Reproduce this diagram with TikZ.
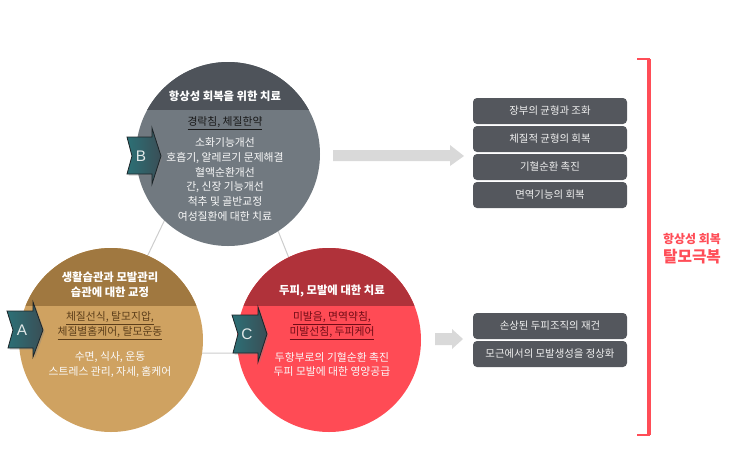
\documentclass[tikz,border=0pt]{standalone}
\usepackage{fontspec}
\setmainfont{Noto Sans CJK KR}
\newfontfamily\tagfont{Liberation Sans}
\usetikzlibrary{shadows}

\begin{document}
\begin{tikzpicture}[x=0.75pt,y=0.75pt,yscale=-1,xscale=1,
	zone/.style={circle, minimum size=138pt, inner sep=0pt},
	title/.style={color=white, font=\bfseries\fontsize{8.5}{11.25}\selectfont, align=center, inner sep=0pt},
	herb/.style={font=\fontsize{8.1}{11.25}\selectfont, align=center, inner sep=0pt},
	care/.style={color={rgb, 255:red, 250; green, 250; blue, 250 }, font=\fontsize{8.1}{11}\selectfont, align=center, inner sep=0pt},
	goal/.style={fill={rgb, 255:red, 84; green, 87; blue, 93 }, rounded corners=3pt, minimum width=115.5pt, minimum height=19.5pt, inner sep=0pt, text={rgb, 255:red, 240; green, 240; blue, 240 }, font=\fontsize{7.8}{9}\selectfont},
	tag/.style={draw={rgb, 255:red, 28; green, 36; blue, 40 }, line width=0.6pt, left color={rgb, 255:red, 44; green, 112; blue, 118 }, right color={rgb, 255:red, 58; green, 78; blue, 86 }, drop shadow={shadow xshift=1.2pt, shadow yshift=-1.2pt, opacity=0.35}},
	letter/.style={color={rgb, 255:red, 226; green, 232; blue, 232 }, font=\tagfont\fontsize{11.5}{12}\selectfont, inner sep=0pt},
	link/.style={color={rgb, 255:red, 205; green, 205; blue, 205 }, line width=0.75pt},
	flow/.style={fill={rgb, 255:red, 217; green, 217; blue, 217 }},
	accent/.style={color={rgb, 255:red, 255; green, 77; blue, 87 }}
	]
	%uncomment if require: \path (0,462); %set diagram left start at 0, and has height of 462
	\useasboundingbox (0,0) rectangle (740,462);
	
	\coordinate (tB) at (224,96);
	\coordinate (tA) at (101,353);
	\coordinate (tC) at (327,353);
	\draw [link] (tB) -- (tA) -- (tC) -- cycle;
	
	\node [zone, fill={rgb, 255:red, 113; green, 121; blue, 128 }] (zoneB) at (228,154) {};
	\node [zone, fill={rgb, 255:red, 207; green, 162; blue, 97 }] (zoneA) at (111,340) {};
	\node [zone, fill={rgb, 255:red, 255; green, 75; blue, 85 }] (zoneC) at (329,340) {};
	
	\begin{scope}
		\clip (228,154) circle [x radius= 92, y radius= 92];
		\fill [color={rgb, 255:red, 78; green, 83; blue, 90 }] (130,60) rectangle (330,110);
	\end{scope}
	\begin{scope}
		\clip (111,340) circle [x radius= 92, y radius= 92];
		\fill [color={rgb, 255:red, 160; green, 120; blue, 64 }] (15,245) rectangle (210,306);
	\end{scope}
	\begin{scope}
		\clip (329,340) circle [x radius= 92, y radius= 92];
		\fill [color={rgb, 255:red, 176; green, 50; blue, 58 }] (230,245) rectangle (430,306);
	\end{scope}
	
	
	\draw (225,96) node [title] (titleB) {항상성 회복을 위한 치료};
	\draw (225,123) node [herb, color={rgb, 255:red, 25; green, 25; blue, 25 }] (herbB) {\underline{경락침, 체질한약}};
	\draw (225,179.5) node [care] (careB) {소화기능개선\\호흡기, 알레르기 문제해결\\혈액순환개선\\간, 신장 기능개선\\척추 및 골반교정\\여성질환에 대한 치료};
	
	\draw (110,284.5) node [title] (titleA) {생활습관과 모발관리\\습관에 대한 교정};
	\draw (110,325.5) node [herb, color={rgb, 255:red, 92; green, 62; blue, 26 }] (herbA) {\underline{체질선식, 탈모지압,}\\\underline{체질별홈케어, 탈모운동}};
	\draw (110,364.5) node [care] (careA) {수면, 식사, 운동\\스트레스 관리, 자세, 홈케어};
	
	\draw (332,291) node [title] (titleC) {두피, 모발에 대한 치료};
	\draw (332,325.5) node [herb, color={rgb, 255:red, 112; green, 12; blue, 22 }] (herbC) {\underline{미발음, 면역약침,}\\\underline{미발선침, 두피케어}};
	\draw (332,364.5) node [care] (careC) {두항부로의 기혈순환 촉진\\두피 모발에 대한 영양공급};
	
	
	\draw [tag] (7,311) -- (33,311) -- (33,302) -- (43,330) -- (33,357) -- (33,348) -- (8,348) -- (13,330) -- cycle;
	\draw (22,330) node [letter] (tagA) {A};
	\draw [tag] (127,137) -- (152,137) -- (152,128) -- (161,156) -- (152,184) -- (152,174) -- (127,174) -- (132,156) -- cycle;
	\draw (141,156) node [letter] (tagB) {B};
	\draw [tag] (232,315) -- (258,315) -- (258,307) -- (267,334) -- (258,362) -- (258,353) -- (233,353) -- (238,334) -- cycle;
	\draw (247,334) node [letter] (tagC) {C};
	
	
	\fill [flow] (333,150) -- (450,150) -- (450,145) -- (464,156) -- (450,166) -- (450,161) -- (333,161) -- cycle;
	\fill [flow] (435,333) -- (452,333) -- (452,329) -- (463,339) -- (452,349) -- (452,345) -- (435,345) -- cycle;
	
	\draw (550,111) node [goal] (goal1) {장부의 균형과 조화};
	\draw (550,139) node [goal] (goal2) {체질적 균형의 회복};
	\draw (550,167) node [goal] (goal3) {기혈순환 촉진};
	\draw (550,195) node [goal] (goal4) {면역기능의 회복};
	\draw (550,326) node [goal] (goal5) {손상된 두피조직의 재건};
	\draw (550,354) node [goal] (goal6) {모근에서의 모발생성을 정상화};
	
	
	\draw [accent, line width=3pt] (649,59) -- (649,435);
	\draw [accent, line width=1.2pt] (637,59) -- (650,59);
	\draw [accent, line width=1.2pt] (637,435) -- (650,435);
	\draw (692,239) node [accent, font=\bfseries\fontsize{9}{10}\selectfont] (goalSub) {항상성 회복};
	\draw (692,257) node [accent, font=\bfseries\fontsize{11.8}{13}\selectfont] (goalMain) {탈모극복};
	
\end{tikzpicture}
\end{document}
